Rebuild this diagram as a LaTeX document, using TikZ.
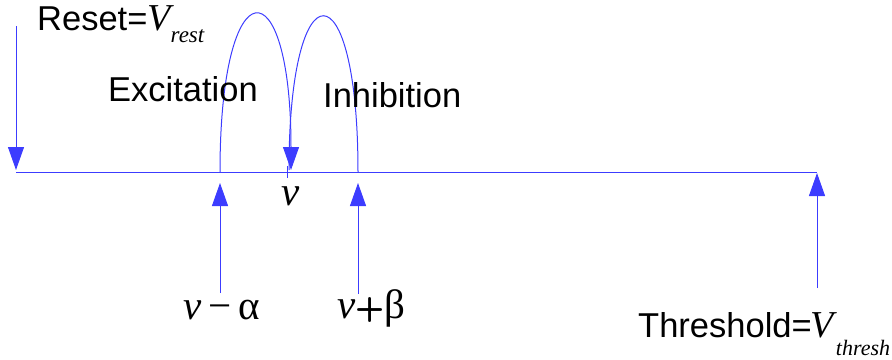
\documentclass[tikz,border=0pt]{standalone}
\usepackage{fontspec}
\setmainfont{Liberation Sans}
\newfontfamily\mathserif{Liberation Serif}
\usetikzlibrary{arrows.meta}
\definecolor{lineblue}{RGB}{60,60,255}
\newcommand{\mv}[1]{{\mathserif\itshape #1}}
\begin{document}
\begin{tikzpicture}[x=1pt,y=-1pt,
  conn/.style={draw=lineblue,line width=1pt},
  tip/.style={-{Triangle[length=23pt,width=16pt]},lineblue},
  lbl/.style={inner sep=0pt,anchor=base west,font=\fontsize{34.5}{38}\selectfont},
  mlbl/.style={inner sep=0pt,anchor=base west,font=\fontsize{41}{44}\selectfont\mathserif}]
\useasboundingbox (0,0) rectangle (892,359);
% coordinates on the line
\coordinate (L0) at (16,172);
\coordinate (L1) at (817,172);
\coordinate (rtop) at (16,26);
\coordinate (rtip) at (16,170);
\coordinate (a0) at (220,172);
\coordinate (a1) at (291,170);
\coordinate (b0) at (289,170);
\coordinate (b1) at (358,172);
\coordinate (t0) at (287,166);
\coordinate (t1) at (287,178);
\coordinate (ea) at (220,293);
\coordinate (eatip) at (220,183);
\coordinate (ib) at (358,294);
\coordinate (ibtip) at (358,183);
\coordinate (th) at (817,288);
\coordinate (thtip) at (817,173);
% main line
\draw[conn] (L0) -- (L1);
\draw[conn] (t0) -- (t1);
% arrows
\draw[conn,tip] (rtop) -- (rtip);
\draw[conn] (b0) .. controls (289,-36) and (358,-36) .. (b1);
\draw[conn,tip] (a0) .. controls (220,-36) and (291,-36) .. (a1);
\draw[conn,tip] (ea) -- (eatip);
\draw[conn,tip] (ib) -- (ibtip);
\draw[conn,tip] (th) -- (thtip);
% labels
\node[lbl] (reset) at (37,30) {Reset={\fontsize{38}{40}\selectfont\mv{V}}\raisebox{-12pt}{\fontsize{23}{25}\selectfont\mv{rest}}};
\node[lbl] (exc) at (108,101) {Excitation};
\node[lbl] (inh) at (323,107) {Inhibition};
\node[mlbl,anchor=base] (v) at (291,205) {\itshape v};
\node[mlbl] (vma) at (183,319) {\itshape v\upshape\,−\,α};
\node[mlbl] (vpb) at (337,318) {\itshape v\upshape\textbf{\fontsize{34}{36}\selectfont\sffamily+}β};
\node[lbl] (thr) at (638,337) {Threshold=\kern-1pt{\fontsize{38}{42}\selectfont\mv{V}}\kern2pt\raisebox{-18pt}{\fontsize{22}{24}\selectfont\mv{thresh}}};
\end{tikzpicture}
\end{document}
